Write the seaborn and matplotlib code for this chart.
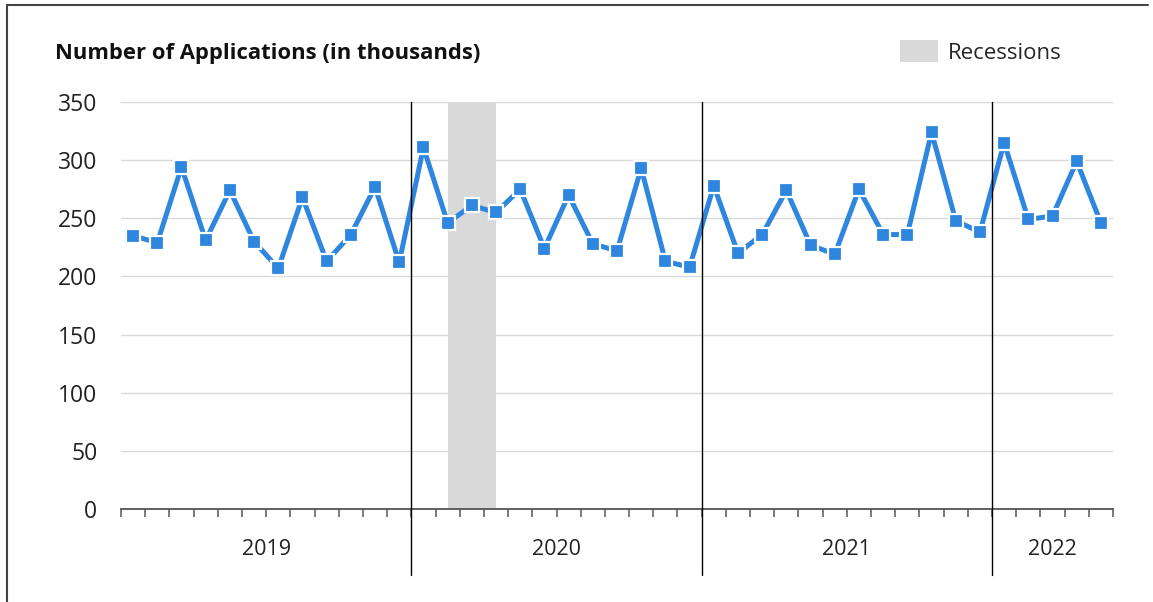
import numpy as np
import pandas as pd
import matplotlib
matplotlib.use("Agg")
import matplotlib.pyplot as plt
from matplotlib.patches import Patch
from matplotlib.lines import Line2D
import seaborn as sns

sns.set_theme(style="white")
plt.rcParams['font.family'] = ['Open Sans', 'DejaVu Sans']

# =========================
# DATA (monthly, Jan 2019 - May 2022)
# =========================
years = ["2019", "2020", "2021", "2022"]
months_per_year = [12, 12, 12, 5]

applications = [
    235, 229, 294, 231, 274, 230, 207, 268, 213, 236, 277, 212,   # 2019
    311, 246, 261, 255, 275, 224, 270, 228, 222, 293, 213, 208,   # 2020
    278, 220, 236, 274, 227, 219, 275, 236, 236, 324, 248, 238,   # 2021
    315, 249, 252, 299, 246,                                      # 2022
]

# recession shading, in month index (Feb 2020 -> Apr 2020)
recession_start = 13
recession_end = 15

df = pd.DataFrame({"month": np.arange(len(applications)), "apps": applications})

# =========================
# PLOT
# =========================
fig = plt.figure(figsize=(11.53, 6.02), dpi=100)
ax = fig.add_axes([121 / 1153, 1 - 509 / 602, (1113 - 121) / 1153, (509 - 102) / 602])

ax.axvspan(recession_start, recession_end, color="#d9d9d9", zorder=0, lw=0)

sns.lineplot(data=df, x="month", y="apps", ax=ax, color="#2e86de", linewidth=3.6,
             marker="s", markersize=9.5, markeredgecolor="white", markeredgewidth=1.6,
             zorder=3)

n = len(applications)
ax.set_xlim(-0.5, n - 0.5)
ax.set_ylim(0, 350)
ax.set_yticks(range(0, 351, 50))
ax.yaxis.grid(True, color="#d9d9d9", linewidth=1)
ax.set_axisbelow(True)
ax.tick_params(axis="y", labelsize=16.5, labelcolor="#222222", length=0, pad=17)
ax.set_xlabel("")
ax.set_ylabel("")

for s in ["top", "right", "left"]:
    ax.spines[s].set_visible(False)
ax.spines["bottom"].set_color("#555555")
ax.spines["bottom"].set_linewidth(1.3)

# month boundary ticks
ax.set_xticks(np.arange(-0.5, n, 1.0))
ax.set_xticklabels([])
ax.tick_params(axis="x", bottom=True, direction="out", length=6, width=1.1, color="#555555")

# year separators and year labels
bounds = np.cumsum([0] + months_per_year) - 0.5
trans = ax.get_xaxis_transform()
for b in bounds[1:-1]:
    ax.plot([b, b], [-0.162, 1.0], color="black", linewidth=1, transform=trans,
            clip_on=False, zorder=4)
for yr, a, b in zip(years, bounds[:-1], bounds[1:]):
    ax.text((a + b) / 2, -0.1, yr, transform=trans, ha="center", va="center",
            fontsize=15.5, color="#222222")

# title and legend
fig.text(55 / 1153, 1 - 53 / 602, "Number of Applications (in thousands)",
         fontsize=15.8, fontweight="bold", color="#111111", va="center", ha="left")
fig.legend(handles=[Patch(facecolor="#d9d9d9", edgecolor="none", label="Recessions")],
           loc="center left", bbox_to_anchor=(880 / 1153, 1 - 52 / 602), frameon=False,
           fontsize=16, handlelength=1.7, handleheight=1.1, handletextpad=0.45)

# outer frame (left and top edges)
fig.add_artist(Line2D([7 / 1153, 7 / 1153], [0, 1 - 5 / 602], color="#444444", lw=1.5,
                      transform=fig.transFigure))
fig.add_artist(Line2D([7 / 1153, 1148 / 1153], [1 - 5 / 602, 1 - 5 / 602], color="#444444",
                      lw=1.5, transform=fig.transFigure))

fig.savefig("out.png", dpi=100, facecolor="white")
